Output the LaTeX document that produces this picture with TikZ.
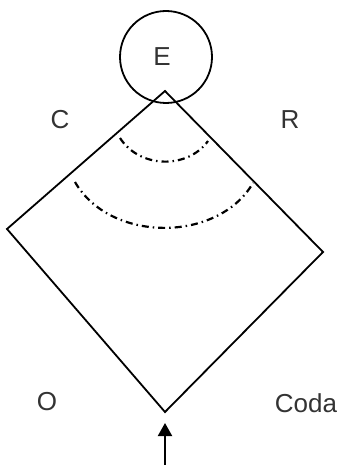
\documentclass[tikz,border=0pt]{standalone}
\usepackage{fontspec}
\setmainfont{Liberation Sans}
\usetikzlibrary{arrows.meta}
\definecolor{txtgray}{HTML}{333333}
\begin{document}
\begin{tikzpicture}[x=1pt,y=-1pt,line width=1.8pt,
  lbl/.style={font=\fontsize{26}{30}\selectfont, text=txtgray, inner sep=0pt},
  dd/.style={line width=2.2pt, dash pattern=on 7pt off 4pt on 1.5pt off 4pt},
  ringnode/.style={draw, circle, minimum size=92pt, inner sep=0pt, line width=1.8pt}]
\useasboundingbox (0,0) rectangle (340,465);
% diamond
\coordinate (T) at (165,91);
\coordinate (L) at (7,229);
\coordinate (Rv) at (323,252);
\coordinate (B) at (165,412);
\draw[line join=miter] (T) -- (L) -- (B) -- (Rv) -- cycle;
% circle with E
\node[ringnode, lbl] (E) at (166,57) {\hspace*{-8pt}\raisebox{-5pt}{E}};
% dash-dot arcs
\draw[dd] (120,138) .. controls (140,169) and (188,169) .. (208,141);
\draw[dd] (75,182) .. controls (110,243) and (218,243) .. (253,183);
% labels
\node[lbl] (C) at (60,120) {C};
\node[lbl] (R) at (290,120) {R};
\node[lbl] (O) at (47,402) {O};
\node[lbl] (Coda) at (306,403) {Coda};
% arrow
\coordinate (A0) at (165,465);
\coordinate (A1) at (165,423);
\draw[-{Triangle[length=13pt,width=14pt]}, line width=2pt] (A0) -- (A1);
\end{tikzpicture}
\end{document}
